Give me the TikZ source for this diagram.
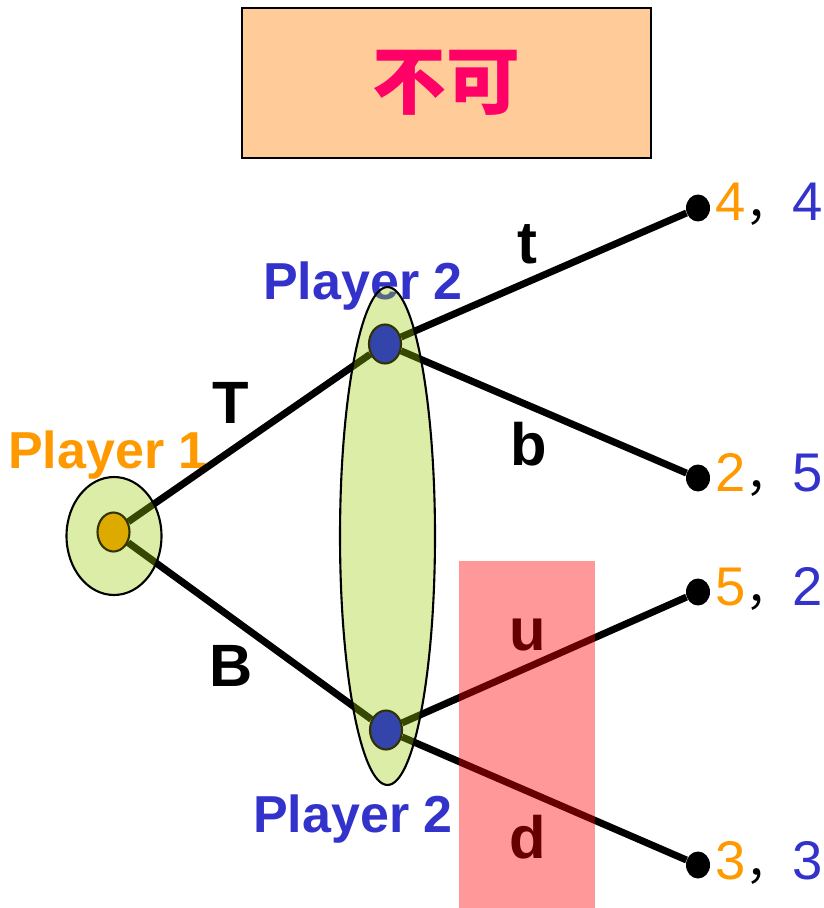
\documentclass[tikz,border=0pt]{standalone}
\usepackage{fontspec}
\setmainfont{Liberation Sans}
\newfontfamily\cjk{Noto Sans CJK SC}
\usetikzlibrary{shapes.geometric,backgrounds}
\definecolor{pone}{HTML}{FF9900}
\definecolor{ptwo}{HTML}{3333CC}
\definecolor{peach}{HTML}{FFCC99}
\definecolor{verdict}{HTML}{FF0066}
\definecolor{setgreen}{HTML}{99CC00}
\definecolor{gold}{HTML}{DDAA00}
\definecolor{olive}{HTML}{333300}
\definecolor{nodeblue}{HTML}{3344AA}
\newcommand\sep{{\cjk\fontsize{26.5}{28}\selectfont ，}}
\tikzset{
  move/.style={line width=4pt},
  infoset/.style={draw=black,line width=1.2pt,fill=setgreen,fill opacity=.35},
  decision/.style={ellipse,draw=olive,line width=1.2pt,inner sep=0pt,
    minimum width=.64cm,minimum height=.78cm},
  leaf/.style={ellipse,fill=black,inner sep=0pt,minimum width=.48cm,minimum height=.54cm},
  player/.style={font=\fontsize{29.6}{32}\selectfont\bfseries,anchor=base,inner sep=0pt},
  act/.style={font=\fontsize{34}{36}\selectfont\bfseries,anchor=base,inner sep=0pt},
  payoff/.style={font=\fontsize{31}{33}\selectfont,anchor=base west,inner sep=0pt}}

\begin{document}
\begin{tikzpicture}[x=0.02cm,y=-0.02cm]
\useasboundingbox (0,0) rectangle (823,908);

% verdict box
\node[draw,line width=1.1pt,fill=peach,minimum width=8.18cm,minimum height=3cm,
  font=\cjk\bfseries\fontsize{42}{44}\selectfont,text=verdict] (verdict) at (446.5,83)
  {\raisebox{-0.14cm}{不可}};

% decision nodes and leaves
\node[decision,fill=gold] (p1) at (113.5,532) {};
\node[decision,fill=nodeblue] (p2t) at (385,344) {};
\node[decision,fill=nodeblue] (p2b) at (386,730) {};
\node[leaf] (end1) at (698,208) {};
\node[leaf] (end2) at (698,478) {};
\node[leaf] (end3) at (698,592) {};
\node[leaf] (end4) at (698,865) {};

\node[payoff] (pay1) at (715,221) {\textcolor{pone}{4}\sep\textcolor{ptwo}{4}};
\node[payoff] (pay2) at (715,491) {\textcolor{pone}{2}\sep\textcolor{ptwo}{5}};
\node[payoff] (pay3) at (715,605) {\textcolor{pone}{5}\sep\textcolor{ptwo}{2}};
\node[payoff] (pay4) at (715,879) {\textcolor{pone}{3}\sep\textcolor{ptwo}{3}};

\begin{scope}[on background layer]
\node[player,text=pone] (lab1) at (108,468) {Player 1};
\node[player,text=ptwo] (lab2t) at (363,300) {Player 2};
\node[player,text=ptwo] (lab2b) at (353,832) {Player 2};
\node[act] (actT) at (230.5,423) {T};
\node[act] (actB) at (231.5,686) {B};
\node[act] (actt) at (527,264) {t};
\node[act] (actb) at (528.5,465) {b};
\node[act] (actu) at (527.5,650) {u};
\node[act] (actd) at (527.5,858) {d};

\draw[move] (p1) -- (p2t);
\draw[move] (p1) -- (p2b);
\draw[move] (p2t) -- (end1);
\draw[move] (p2t) -- (end2);
\draw[move] (p2b) -- (end3);
\draw[move] (p2b) -- (end4);

% information sets
\draw[infoset] (114,536) ellipse (0.95cm and 1.18cm);
\draw[infoset] (387.5,536) ellipse (0.95cm and 4.98cm);
\end{scope}

\fill[red,opacity=.4] (459,561) rectangle (595,908);
\end{tikzpicture}
\end{document}
